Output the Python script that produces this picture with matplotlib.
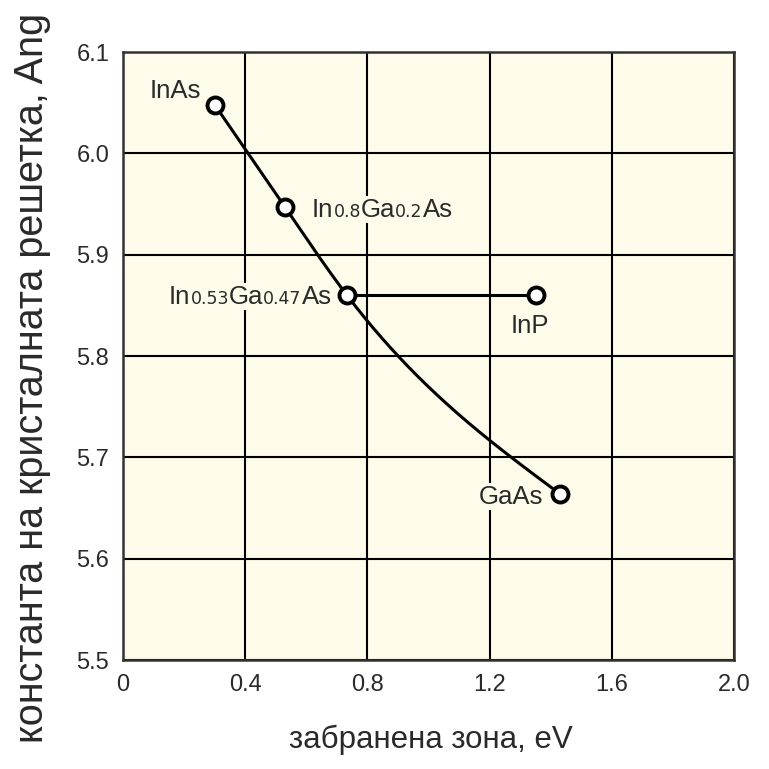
import numpy as np
import matplotlib
matplotlib.use("Agg")
import matplotlib.pyplot as plt
from matplotlib.offsetbox import TextArea, HPacker, AnnotationBbox

plt.rcParams['font.family'] = ['Liberation Sans', 'DejaVu Sans']

# data
materials = ["InAs", "In0.8Ga0.2As", "In0.53Ga0.47As", "GaAs"]
bandgap = [0.30, 0.53, 0.733, 1.43]
lattice = [6.048, 5.947, 5.860, 5.664]
inp_bandgap = 1.352
inp_lattice = 5.860

xticks = [0, 0.4, 0.8, 1.2, 1.6, 2.0]
xticklabels = ["0", "0.4", "0.8", "1.2", "1.6", "2.0"]
yticks = [5.5, 5.6, 5.7, 5.8, 5.9, 6.0, 6.1]
yticklabels = ["5.5", "5.6", "5.7", "5.8", "5.9", "6.0", "6.1"]

BG = "#fffbea"
TXT = "#2a2a2a"


def natural_spline(x, y, xs):
    x = np.asarray(x, float)
    y = np.asarray(y, float)
    n = len(x)
    h = np.diff(x)
    A = np.zeros((n, n))
    b = np.zeros(n)
    A[0, 0] = 1.0
    A[-1, -1] = 1.0
    for i in range(1, n - 1):
        A[i, i - 1] = h[i - 1]
        A[i, i] = 2 * (h[i - 1] + h[i])
        A[i, i + 1] = h[i]
        b[i] = 6 * ((y[i + 1] - y[i]) / h[i] - (y[i] - y[i - 1]) / h[i - 1])
    M = np.linalg.solve(A, b)
    out = np.empty_like(xs)
    for j, xv in enumerate(xs):
        k = int(np.clip(np.searchsorted(x, xv, side="right") - 1, 0, n - 2))
        a = x[k + 1] - xv
        c = xv - x[k]
        out[j] = (M[k] * a**3 + M[k + 1] * c**3) / (6 * h[k]) \
            + (y[k] / h[k] - M[k] * h[k] / 6) * a \
            + (y[k + 1] / h[k] - M[k + 1] * h[k] / 6) * c
    return out


fig = plt.figure(figsize=(7.69, 7.69), dpi=100)
ax = fig.add_axes([0.16, 0.1417, 0.7945, 0.7906])
ax.set_facecolor(BG)
ax.set_xlim(0, 2.0)
ax.set_ylim(5.5, 6.1)
ax.set_xticks(xticks)
ax.set_xticklabels(xticklabels)
ax.set_yticks(yticks)
ax.set_yticklabels(yticklabels)
ax.tick_params(length=0, labelsize=17, colors=TXT, pad=10)
ax.grid(True, color="black", lw=1.5, zorder=0)
ax.set_axisbelow(True)
for s in ax.spines.values():
    s.set_linewidth(1.8)
    s.set_color("#333333")

# smooth curve through the compound points
xs = np.linspace(bandgap[0], bandgap[-1], 300)
ax.plot(xs, natural_spline(bandgap, lattice, xs), color="black", lw=2.2, zorder=3)
ax.plot([bandgap[2], inp_bandgap], [lattice[2], inp_lattice], color="black", lw=2.2, zorder=3)

ax.plot(bandgap + [inp_bandgap], lattice + [inp_lattice], "o", ms=11.5, mfc="white",
        mec="black", mew=2.8, zorder=5)


def label(parts, xy, off, align):
    areas = []
    for txt, sm in parts:
        if sm:
            props = dict(fontsize=12.5, color=TXT, family="DejaVu Sans")
        else:
            props = dict(fontsize=18.5, color=TXT)
        areas.append(TextArea(txt, textprops=props))
    pack = HPacker(children=areas, pad=0, sep=0, align="baseline")
    ab = AnnotationBbox(pack, xy, xybox=off, boxcoords="offset points",
                        box_alignment=align, frameon=True, pad=0.1,
                        bboxprops=dict(facecolor=BG, edgecolor="none"), zorder=2)
    ax.add_artist(ab)


label([("InAs", False)], (bandgap[0], lattice[0]), (-10, 10), (1, 0.5))
label([("In", False), ("0.8", True), ("Ga", False), ("0.2", True), ("As", False)],
      (bandgap[1], lattice[1]), (19.5, -2), (0, 0.5))
label([("In", False), ("0.53", True), ("Ga", False), ("0.47", True), ("As", False)],
      (bandgap[2], lattice[2]), (-11, -1), (1, 0.5))
label([("InP", False)], (inp_bandgap, inp_lattice), (-4.3, -22), (0.5, 0.5))
label([("GaAs", False)], (bandgap[3], lattice[3]), (-12, -2), (1, 0.5))

fig.text(0.5605, 0.0273, "забранена зона, eV", fontsize=22.5, color=TXT,
         ha="center", va="baseline")
fig.text(0.0559, 0.508, "константа на кристалната решетка, Ang", fontsize=28.5,
         color=TXT, rotation=90, rotation_mode="anchor", ha="center", va="baseline")

fig.savefig("out.png", dpi=100, facecolor="white")
